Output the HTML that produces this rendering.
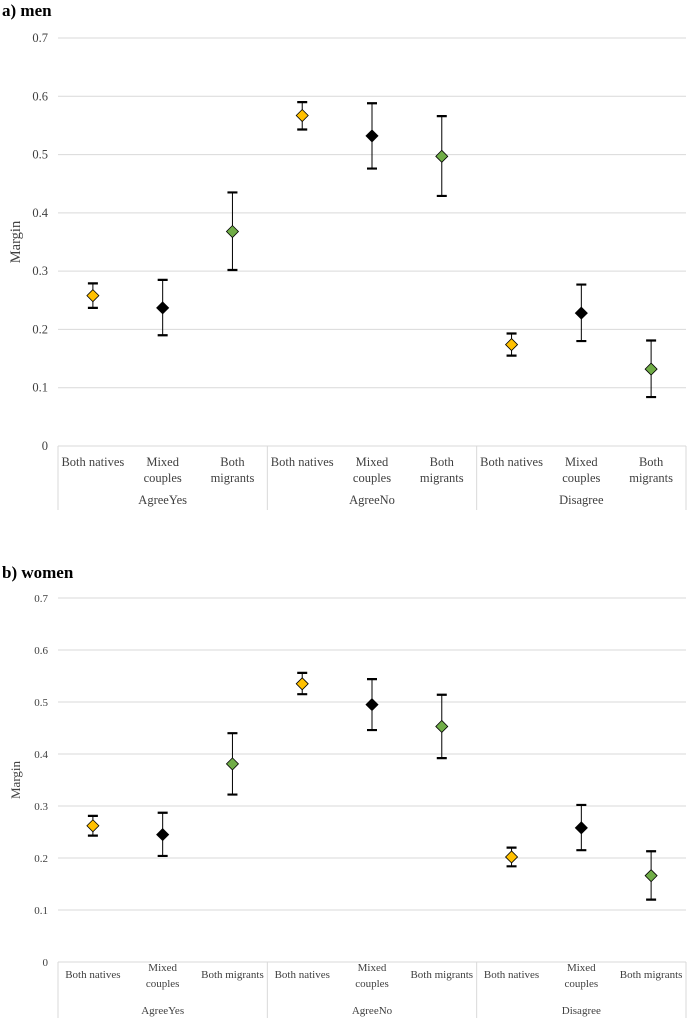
<!DOCTYPE html>
<html><head><meta charset="utf-8"><style>
body{margin:0;background:#fff;}
svg{display:block;font-family:"Liberation Serif",serif;}
</style></head><body>
<svg id="svg" width="690" height="1018" viewBox="0 0 690 1018">
<text x="2" y="16" font-size="17" font-weight="bold">a) men</text>
<text x="2" y="578" font-size="17" font-weight="bold">b) women</text>
</svg>
<script>
const categories = ["Both natives","Mixed couples","Both migrants","Both natives","Mixed couples","Both migrants","Both natives","Mixed couples","Both migrants"];
const groups = ["AgreeYes","AgreeNo","Disagree"];
const yTicks = [0,0.1,0.2,0.3,0.4,0.5,0.6,0.7];
const menMargin = [0.258,0.237,0.368,0.567,0.532,0.497,0.174,0.228,0.132];
const menLow = [0.237,0.190,0.302,0.543,0.476,0.429,0.155,0.180,0.084];
const menHigh = [0.279,0.285,0.435,0.590,0.588,0.566,0.193,0.277,0.181];
const womenMargin = [0.262,0.245,0.381,0.535,0.495,0.453,0.202,0.258,0.166];
const womenLow = [0.243,0.204,0.322,0.515,0.446,0.392,0.184,0.215,0.120];
const womenHigh = [0.281,0.287,0.440,0.556,0.544,0.514,0.220,0.302,0.213];
const colors = ["#FFC000","#000000","#70AD47"];
const NS="http://www.w3.org/2000/svg";
const svg=document.getElementById('svg');
function mk(tag,attrs,parent){const e=document.createElementNS(NS,tag);for(const k in attrs)e.setAttribute(k,attrs[k]);(parent||svg).appendChild(e);return e;}
function chart(cfg){
  const g=mk('g',{});
  
  
  const x0=58,x1=686,n=categories.length,w=(x1-x0)/n;
  const y=v=>cfg.y0-(v/0.7)*(cfg.y0-cfg.y7);
  const xc=i=>x0+w*(i+0.5);
  yTicks.forEach(t=>{
    if(t>0){const l=mk('line',{x1:x0,x2:x1,y1:y(t),y2:y(t),stroke:'#d9d9d9','stroke-width':1},g);
    
    }
    const tx=mk('text',{x:48,y:y(t)+4,'font-size':cfg.fs,'text-anchor':'end',fill:'#404040'},g);
    tx.textContent=t===0?'0':t.toFixed(1);
    
    
  });
  const at=mk('text',{x:0,y:0,'font-size':cfg.fs+2,'text-anchor':'middle',fill:'#404040',transform:`translate(20,${(cfg.y0+cfg.y7)/2}) rotate(-90)`},g);
  at.textContent='Margin';
  
  
  const ax=mk('line',{x1:x0,x2:x1,y1:cfg.y0,y2:cfg.y0,stroke:'#d9d9d9'},g);
  
  
  for(let k=0;k<=3;k++){const sx=x0+w*3*k;const s=mk('line',{x1:sx,x2:sx,y1:cfg.y0,y2:cfg.y0+cfg.sep,stroke:'#d9d9d9'},g);
    
    }
  categories.forEach((c,i)=>{
    let parts = (c==='Both natives')?[c]:(cfg.wrapMig||c==='Mixed couples'?c.split(' '):[c]);
    const base = cfg.center ? (parts.length>1 ? cfg.y0+9 : cfg.y0+16) : cfg.y0+20;
    const t=mk('text',{x:xc(i),y:base,'font-size':cfg.fs,'text-anchor':'middle',fill:'#404040'},g);
    
    
    parts.forEach((p,j)=>{const ts=mk('tspan',{x:xc(i),dy:j?cfg.lh:0},t);ts.textContent=p;});
  });
  groups.forEach((gr,k)=>{
    const t=mk('text',{x:xc(k*3+1),y:cfg.y0+cfg.gy,'font-size':cfg.fs,'text-anchor':'middle',fill:'#404040'},g);
    t.textContent=gr;
    
    
  });
  cfg.m.forEach((v,i)=>{
    const cx=xc(i);
    const e=mk('path',{d:`M${cx},${y(cfg.hi[i])}V${y(cfg.lo[i])}`,stroke:'#000','stroke-width':1,fill:'none'},g);
    
    
    const caps=mk('path',{d:`M${cx-5},${y(cfg.hi[i])}H${cx+5}M${cx-5},${y(cfg.lo[i])}H${cx+5}`,stroke:'#000','stroke-width':2.2},g);
    
    
    const cy=y(v),r=6;
    const d=mk('path',{d:`M${cx},${cy-r}L${cx+r},${cy}L${cx},${cy+r}L${cx-r},${cy}Z`,fill:colors[i%3],stroke:'#000','stroke-width':0.8},g);
    
    
  });
}
chart({name:'men-chart',y0:446,y7:38,fs:12.5,lh:16,m:menMargin,lo:menLow,hi:menHigh,wrapMig:true,center:false,gy:58,sep:64});
chart({name:'women-chart',y0:962,y7:598,fs:11,lh:16,m:womenMargin,lo:womenLow,hi:womenHigh,wrapMig:false,center:true,gy:52,sep:56});
</script>
</body></html>
